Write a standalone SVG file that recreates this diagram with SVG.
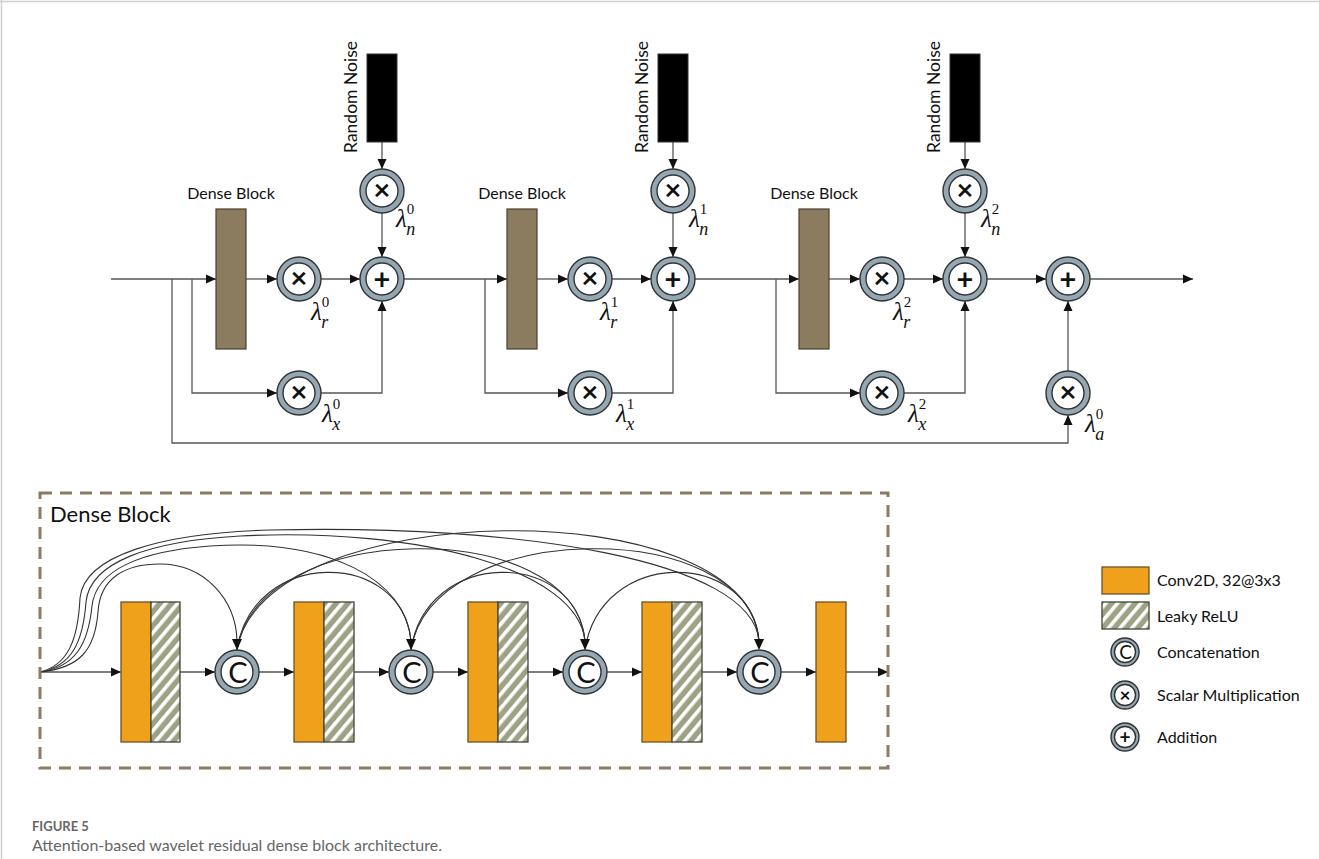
<svg xmlns="http://www.w3.org/2000/svg" width="1319" height="859" viewBox="0 0 1319 859">
<style>
.arr{fill:none;stroke:#555;stroke-width:1.3;marker-end:url(#ah)}
.cv{fill:none;stroke:#333;stroke-width:1.1}
.db{fill:#8b7b5f;stroke:#4a4030;stroke-width:1.2}
.noise{fill:#000;stroke:#333;stroke-width:1}
.ring{fill:#93a8b3;stroke:#333;stroke-width:1.4}
.inner{fill:#fff;stroke:#333;stroke-width:1.4}
.sym{font-family:Lato,"Liberation Sans",sans-serif;font-weight:bold;font-size:29px;fill:#111;text-anchor:middle}
.csym{font-family:Lato,"Liberation Sans",sans-serif;font-size:29px;fill:#111;text-anchor:middle}
.lbl{font-family:Lato,"Liberation Sans",sans-serif;font-size:16px;fill:#111}
.rn{font-family:Lato,"Liberation Sans",sans-serif;font-size:17.5px;fill:#111}
.lam{font-family:"Liberation Serif","DejaVu Serif",serif;font-style:italic;font-size:25px;fill:#111}
.sup{font-style:normal;font-size:15px}
.sub{font-style:italic;font-size:18px}
.conv{fill:#f0a11b;stroke:#6b5428;stroke-width:1.3}
.relu{fill:url(#hatch);stroke:#3f4535;stroke-width:1.3}
.leg{font-family:Lato,"Liberation Sans",sans-serif;font-size:16px;fill:#111}
.lring{fill:#93a8b3;stroke:#333;stroke-width:1.4}
.linner{fill:#fff;stroke:#333;stroke-width:1.4}
</style>
<defs>
<marker id="ah" viewBox="0 0 10 10" refX="10" refY="5" markerWidth="10" markerHeight="10" markerUnits="userSpaceOnUse" orient="auto"><path d="M0,0.5 L10,5 L0,9.5 z" fill="#111"/></marker>
<pattern id="hatch" patternUnits="userSpaceOnUse" width="9" height="9" patternTransform="rotate(40)"><rect width="9" height="9" fill="#9ca283"/><rect x="0" y="0" width="3.6" height="9" fill="#fff"/></pattern>
</defs>
<rect width="1319" height="859" fill="#fff"/>
<line x1="0" y1="1.5" x2="1319" y2="1.5" stroke="#cfcfcf" stroke-width="1.5"/>
<line x1="1.5" y1="0" x2="1.5" y2="859" stroke="#cfcfcf" stroke-width="1.5"/>

<g id="connectors">
<path class="arr" d="M111,279 H216"/>
<path class="arr" d="M172,279 V443 H1068 V415"/>
<path class="arr" d="M192,279 V393 H277"/>
<path class="arr" d="M246,279 H277"/>
<path class="arr" d="M321,279 H360"/>
<path class="arr" d="M321,393 H382 V301"/>
<path class="arr" d="M382,142 V169"/>
<path class="arr" d="M382,213 V257"/>
<path class="arr" d="M404,279 H507"/>
<path class="arr" d="M485,279 V393 H568"/>
<path class="arr" d="M537,279 H568"/>
<path class="arr" d="M612,279 H651"/>
<path class="arr" d="M612,393 H673 V301"/>
<path class="arr" d="M673,142 V169"/>
<path class="arr" d="M673,213 V257"/>
<path class="arr" d="M695,279 H799"/>
<path class="arr" d="M776,279 V393 H860"/>
<path class="arr" d="M829,279 H860"/>
<path class="arr" d="M904,279 H943"/>
<path class="arr" d="M904,393 H965 V301"/>
<path class="arr" d="M965,142 V169"/>
<path class="arr" d="M965,213 V257"/>
<path class="arr" d="M987,279 H1046"/>
<path class="arr" d="M1068,371 V301"/>
<path class="arr" d="M1090,279 H1193"/>
<!-- dense block internals -->
<path class="arr" d="M40,672 H121"/>
<path class="arr" d="M180,672 H215"/>
<path class="arr" d="M259,672 H294"/>
<path class="arr" d="M354,672 H389"/>
<path class="arr" d="M433,672 H468"/>
<path class="arr" d="M528,672 H563"/>
<path class="arr" d="M607,672 H642"/>
<path class="arr" d="M702,672 H737"/>
<path class="arr" d="M781,672 H816"/>
<path class="arr" d="M846,672 H888"/>
<!-- dense skip curves -->
<path class="cv" d="M40,672 C80,668 95,650 98,612 C100,578 125,564 160,564 C205,564 236,600 237,641"/>
<path class="cv" d="M40,672 C75,667 88,645 92,606 C96,570 140,551 210,546 C330,538 406,580 411,641"/>
<path class="cv" d="M40,672 C72,666 83,642 86,602 C90,562 150,541 240,536 C420,527 578,570 585,641"/>
<path class="cv" d="M40,672 C68,665 78,640 80,598 C84,556 160,533 270,530 C520,524 752,560 759,641"/>
<path class="cv" d="M237,650 C252,548 402,548 411,641"/>
<path class="cv" d="M237,650 C257,518 575,515 585,641"/>
<path class="cv" d="M237,650 C262,495 750,490 759,641"/>
<path class="cv" d="M411,650 C426,548 576,548 585,641"/>
<path class="cv" d="M411,650 C431,518 749,515 759,641"/>
<path class="cv" d="M585,650 C600,548 750,548 759,641"/>
<path d="M232,639 L242,639 L237,650 z" fill="#111"/>
<path d="M406,639 L416,639 L411,650 z" fill="#111"/>
<path d="M580,639 L590,639 L585,650 z" fill="#111"/>
<path d="M754,639 L764,639 L759,650 z" fill="#111"/>
</g>

<!-- Top blocks -->
<g id="dense1"><rect class="db" x="216" y="209" width="30" height="140"/><text class="lbl" x="231" y="199" text-anchor="middle">Dense Block</text></g>
<g id="dense2"><rect class="db" x="507" y="209" width="30" height="140"/><text class="lbl" x="522" y="199" text-anchor="middle">Dense Block</text></g>
<g id="dense3"><rect class="db" x="799" y="209" width="30" height="140"/><text class="lbl" x="814" y="199" text-anchor="middle">Dense Block</text></g>

<g id="noise1"><rect class="noise" x="367" y="54" width="30" height="88"/><text class="rn" transform="translate(357,97) rotate(-90)" text-anchor="middle">Random Noise</text></g>
<g id="noise2"><rect class="noise" x="658" y="54" width="30" height="88"/><text class="rn" transform="translate(648,97) rotate(-90)" text-anchor="middle">Random Noise</text></g>
<g id="noise3"><rect class="noise" x="950" y="54" width="30" height="88"/><text class="rn" transform="translate(940,97) rotate(-90)" text-anchor="middle">Random Noise</text></g>

<!-- block 1 ops -->
<g id="mul_n0"><circle class="ring" cx="382" cy="191" r="22"/><circle class="inner" cx="382" cy="191" r="16"/><text class="sym" x="382" y="200">×</text>
<text class="lam" x="396" y="227">λ<tspan class="sup" dy="-13">0</tspan><tspan class="sub" dx="-8" dy="21">n</tspan></text></g>
<g id="mul_r0"><circle class="ring" cx="299" cy="279" r="22"/><circle class="inner" cx="299" cy="279" r="16"/><text class="sym" x="299" y="288">×</text>
<text class="lam" x="311" y="320">λ<tspan class="sup" dy="-13">0</tspan><tspan class="sub" dx="-8" dy="21">r</tspan></text></g>
<g id="add0"><circle class="ring" cx="382" cy="279" r="22"/><circle class="inner" cx="382" cy="279" r="16"/><text class="sym" x="382" y="288.5">+</text></g>
<g id="mul_x0"><circle class="ring" cx="299" cy="393" r="22"/><circle class="inner" cx="299" cy="393" r="16"/><text class="sym" x="299" y="402">×</text>
<text class="lam" x="322" y="422">λ<tspan class="sup" dy="-13">0</tspan><tspan class="sub" dx="-8" dy="21">x</tspan></text></g>

<!-- block 2 ops -->
<g id="mul_n1"><circle class="ring" cx="673" cy="191" r="22"/><circle class="inner" cx="673" cy="191" r="16"/><text class="sym" x="673" y="200">×</text>
<text class="lam" x="689" y="227">λ<tspan class="sup" dy="-13">1</tspan><tspan class="sub" dx="-8" dy="21">n</tspan></text></g>
<g id="mul_r1"><circle class="ring" cx="590" cy="279" r="22"/><circle class="inner" cx="590" cy="279" r="16"/><text class="sym" x="590" y="288">×</text>
<text class="lam" x="600" y="320">λ<tspan class="sup" dy="-13">1</tspan><tspan class="sub" dx="-8" dy="21">r</tspan></text></g>
<g id="add1"><circle class="ring" cx="673" cy="279" r="22"/><circle class="inner" cx="673" cy="279" r="16"/><text class="sym" x="673" y="288.5">+</text></g>
<g id="mul_x1"><circle class="ring" cx="590" cy="393" r="22"/><circle class="inner" cx="590" cy="393" r="16"/><text class="sym" x="590" y="402">×</text>
<text class="lam" x="616" y="422">λ<tspan class="sup" dy="-13">1</tspan><tspan class="sub" dx="-8" dy="21">x</tspan></text></g>

<!-- block 3 ops -->
<g id="mul_n2"><circle class="ring" cx="965" cy="191" r="22"/><circle class="inner" cx="965" cy="191" r="16"/><text class="sym" x="965" y="200">×</text>
<text class="lam" x="981" y="227">λ<tspan class="sup" dy="-13">2</tspan><tspan class="sub" dx="-8" dy="21">n</tspan></text></g>
<g id="mul_r2"><circle class="ring" cx="882" cy="279" r="22"/><circle class="inner" cx="882" cy="279" r="16"/><text class="sym" x="882" y="288">×</text>
<text class="lam" x="893" y="320">λ<tspan class="sup" dy="-13">2</tspan><tspan class="sub" dx="-8" dy="21">r</tspan></text></g>
<g id="add2"><circle class="ring" cx="965" cy="279" r="22"/><circle class="inner" cx="965" cy="279" r="16"/><text class="sym" x="965" y="288.5">+</text></g>
<g id="mul_x2"><circle class="ring" cx="882" cy="393" r="22"/><circle class="inner" cx="882" cy="393" r="16"/><text class="sym" x="882" y="402">×</text>
<text class="lam" x="908" y="422">λ<tspan class="sup" dy="-13">2</tspan><tspan class="sub" dx="-8" dy="21">x</tspan></text></g>

<!-- final -->
<g id="add_final"><circle class="ring" cx="1068" cy="279" r="22"/><circle class="inner" cx="1068" cy="279" r="16"/><text class="sym" x="1068" y="288.5">+</text></g>
<g id="mul_a0"><circle class="ring" cx="1068" cy="393" r="22"/><circle class="inner" cx="1068" cy="393" r="16"/><text class="sym" x="1068" y="402">×</text>
<text class="lam" x="1085" y="432">λ<tspan class="sup" dy="-13">0</tspan><tspan class="sub" dx="-8" dy="21">a</tspan></text></g>

<!-- Dense block detail -->
<g id="dense_detail">
<rect x="40" y="493" width="848" height="275" fill="none" stroke="#8b7b5f" stroke-width="3" stroke-dasharray="12 8"/>
<text x="50" y="522" font-family="Lato, 'Liberation Sans', sans-serif" font-size="22" fill="#111">Dense Block</text>
</g>
<g id="conv1"><rect class="conv" x="121" y="602" width="30" height="140"/><rect class="relu" x="151" y="602" width="29" height="140"/></g>
<g id="conv2"><rect class="conv" x="294" y="602" width="30" height="140"/><rect class="relu" x="324" y="602" width="30" height="140"/></g>
<g id="conv3"><rect class="conv" x="468" y="602" width="30" height="140"/><rect class="relu" x="498" y="602" width="30" height="140"/></g>
<g id="conv4"><rect class="conv" x="642" y="602" width="30" height="140"/><rect class="relu" x="672" y="602" width="30" height="140"/></g>
<g id="conv5"><rect class="conv" x="816" y="602" width="30" height="140"/></g>
<g id="cat1"><circle class="ring" cx="237" cy="672" r="22"/><circle class="inner" cx="237" cy="672" r="16"/><text class="csym" x="238" y="682.5">C</text></g>
<g id="cat2"><circle class="ring" cx="411" cy="672" r="22"/><circle class="inner" cx="411" cy="672" r="16"/><text class="csym" x="412" y="682.5">C</text></g>
<g id="cat3"><circle class="ring" cx="585" cy="672" r="22"/><circle class="inner" cx="585" cy="672" r="16"/><text class="csym" x="586" y="682.5">C</text></g>
<g id="cat4"><circle class="ring" cx="759" cy="672" r="22"/><circle class="inner" cx="759" cy="672" r="16"/><text class="csym" x="760" y="682.5">C</text></g>

<!-- Legend -->
<g id="legend">
<rect class="conv" x="1102" y="567" width="47" height="27"/><text class="leg" x="1157" y="586">Conv2D, 32@3x3</text>
<rect class="relu" x="1102" y="602" width="47" height="27"/><text class="leg" x="1157" y="622">Leaky ReLU</text>
<circle class="lring" cx="1125" cy="652" r="14"/><circle class="linner" cx="1125" cy="652" r="10.5"/><text x="1125.5" y="659" text-anchor="middle" font-family="Lato, sans-serif" font-size="19" fill="#111">C</text>
<text class="leg" x="1157" y="658">Concatenation</text>
<circle class="lring" cx="1125" cy="695" r="14"/><circle class="linner" cx="1125" cy="695" r="10.5"/><text x="1125" y="701.5" text-anchor="middle" font-family="Lato, sans-serif" font-weight="bold" font-size="19" fill="#111">×</text>
<text class="leg" x="1157" y="701">Scalar Multiplication</text>
<circle class="lring" cx="1125" cy="737" r="14"/><circle class="linner" cx="1125" cy="737" r="10.5"/><text x="1125" y="743.5" text-anchor="middle" font-family="Lato, sans-serif" font-weight="bold" font-size="19" fill="#111">+</text>
<text class="leg" x="1157" y="743">Addition</text>
</g>

<g id="caption">
<text x="32" y="831" font-family="Lato, 'Liberation Sans', sans-serif" font-size="13" font-weight="bold" fill="#666">FIGURE 5</text>
<text x="32" y="851" font-family="Lato, 'Liberation Sans', sans-serif" font-size="16" fill="#666">Attention-based wavelet residual dense block architecture.</text>
</g>
</svg>
